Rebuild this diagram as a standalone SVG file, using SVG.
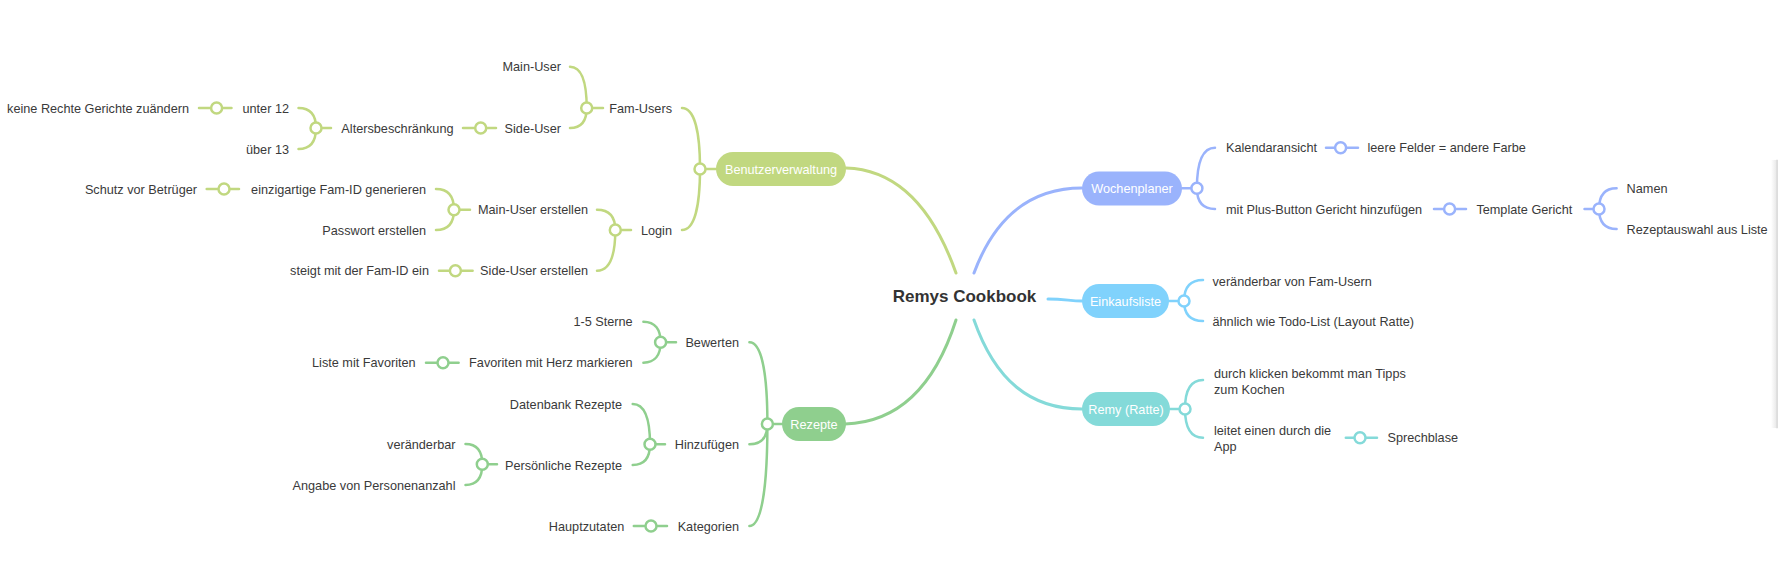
<svg xmlns="http://www.w3.org/2000/svg" width="1778" height="577" viewBox="0 0 1778 577">
<defs>
<linearGradient id="edge" x1="0" y1="0" x2="1" y2="0">
<stop offset="0" stop-color="#ffffff"/>
<stop offset="1" stop-color="#e2e2e2"/>
</linearGradient>
</defs>
<style>
text{font-family:"Liberation Sans",Arial,sans-serif;font-size:12.7px;fill:#3a3a3a}
.l{text-anchor:end}
.w{fill:#fff;text-anchor:middle}
.root{font-size:17px;font-weight:bold;fill:#333;text-anchor:middle}
path,line{fill:none;stroke-linecap:round}
.m{stroke-width:3}
.b{stroke-width:2.5}
circle{fill:#fff;stroke-width:2.5}
.bv{stroke:#c1d880}
.rz{stroke:#8fcf8e}
.wp{stroke:#9ab3fc}
.ek{stroke:#80d2fc}
.rm{stroke:#84dad9}
</style>
<rect width="1778" height="577" fill="#fff"/>
<rect x="1771" y="160" width="7" height="268" fill="url(#edge)"/>
<line x1="1777" y1="160" x2="1777" y2="428" stroke="#d6d6d6" stroke-width="1"/>
<g id="connectors">
<path class="m bv" d="M846 168 C910 170 940 228 956 273"/>
<path class="m wp" d="M1082 188 C1020 188 990 230 974 273"/>
<path class="m rz" d="M845 424 C910 422 940 370 956 320"/>
<path class="m rm" d="M974 320 C995 380 1030 409 1082 409"/>
<path class="m ek" d="M1048 299 C1065 299 1070 301 1082 301"/>
<g class="b bv">
<path d="M586.7 108 C586.7 83.2 581.7 66.7 570 66.7 M586.7 108 C586.7 120 581.7 128 570 128 M586.7 108 L603 108"/>
<path d="M700 169 C700 132.4 694.6 108 682 108 M700 169 C700 205.6 694.6 230 682 230 M700 169 L716 169"/>
<path d="M615.3 230 C615.3 217.8 609.8 209.7 597 209.7 M615.3 230 C615.3 254.4 609.8 270.7 597 270.7 M615.3 230 L631 230"/>
<path d="M454 209.7 C454 197.3 448.6 189 436 189 M454 209.7 C454 221.9 448.6 230 436 230 M454 209.7 L470 209.7"/>
<path d="M316 128 C316 116 310.8 108 298.5 108 M316 128 C316 140.6 310.8 149 298.5 149 M316 128 L331 128"/>
<line x1="199" y1="108" x2="231.5" y2="108"/>
<line x1="463" y1="128" x2="496" y2="128"/>
<line x1="206.7" y1="189" x2="239" y2="189"/>
<line x1="439" y1="270.7" x2="472.6" y2="270.7"/>
<circle cx="586.7" cy="108" r="5.5"/>
<circle cx="700" cy="169" r="5.5"/>
<circle cx="615.3" cy="230" r="5.5"/>
<circle cx="454" cy="209.7" r="5.5"/>
<circle cx="316" cy="128" r="5.5"/>
<circle cx="216.6" cy="108" r="5.5"/>
<circle cx="480.7" cy="128" r="5.5"/>
<circle cx="224" cy="189" r="5.5"/>
<circle cx="455.4" cy="270.7" r="5.5"/>
</g>
<g class="b rz">
<path d="M660.6 342.3 C660.6 330 655.4 321.7 643.4 321.7 M660.6 342.3 C660.6 354.5 655.4 362.7 643.4 362.7 M660.6 342.3 L676 342.3"/>
<path d="M650 444.3 C650 420.1 644.8 404 632.7 404 M650 444.3 C650 456.7 644.8 465 632.7 465 M650 444.3 L665 444.3"/>
<path d="M482.3 464.3 C482.3 452.1 477.3 444 465.5 444 M482.3 464.3 C482.3 476.7 477.3 485 465.5 485 M482.3 464.3 L497 464.3"/>
<path d="M767.4 424 C767.4 375 762 342.3 749.4 342.3 M767.4 424 C767.4 436.2 762 444.3 749.4 444.3 M767.4 424 C767.4 485.2 762 526 749.4 526 M767.4 424 L782 424"/>
<line x1="426" y1="362.7" x2="458.6" y2="362.7"/>
<line x1="633.8" y1="526" x2="667" y2="526"/>
<circle cx="660.6" cy="342.3" r="5.5"/>
<circle cx="650" cy="444.3" r="5.5"/>
<circle cx="482.3" cy="464.3" r="5.5"/>
<circle cx="767.4" cy="424" r="5.5"/>
<circle cx="443" cy="362.7" r="5.5"/>
<circle cx="651" cy="526" r="5.5"/>
</g>
<g class="b wp">
<path d="M1182 188.3 L1196.9 188.3 M1196.9 188.3 C1196.9 163.9 1202.3 147.7 1215 147.7 M1196.9 188.3 C1196.9 200.7 1202.3 209 1215 209"/>
<path d="M1584.5 209 L1599 209 M1599 209 C1599 196.6 1604.3 188.3 1616.6 188.3 M1599 209 C1599 221 1604.3 229 1616.6 229"/>
<line x1="1326" y1="147.7" x2="1358" y2="147.7"/>
<line x1="1434" y1="209" x2="1466" y2="209"/>
<circle cx="1196.9" cy="188.3" r="5.5"/>
<circle cx="1599" cy="209" r="5.5"/>
<circle cx="1340.6" cy="147.7" r="5.5"/>
<circle cx="1449.6" cy="209" r="5.5"/>
</g>
<g class="b ek">
<path d="M1168 301 L1184 301 M1184 301 C1184 288.4 1189.7 280 1203 280 M1184 301 C1184 313 1189.7 321 1203 321"/>
<circle cx="1184" cy="301" r="5.5"/>
</g>
<g class="b rm">
<path d="M1170 409 L1185 409 M1185 409 C1185 391.6 1190.4 380 1203 380 M1185 409 C1185 426.2 1190.4 437.7 1203 437.7"/>
<line x1="1345.8" y1="437.7" x2="1377" y2="437.7"/>
<circle cx="1185" cy="409" r="5.5"/>
<circle cx="1360" cy="437.7" r="5.5"/>
</g>
</g>
<g id="root"><text class="root" x="964.5" y="302">Remys Cookbook</text></g>
<g id="benutzerverwaltung"><rect x="716" y="152" width="130" height="34" rx="17" fill="#c1d880"/><text class="w" x="781" y="173.5">Benutzerverwaltung</text></g>
<g id="wochenplaner"><rect x="1082" y="171.5" width="100" height="34" rx="17" fill="#9ab3fc"/><text class="w" x="1132" y="192.8">Wochenplaner</text></g>
<g id="einkaufsliste"><rect x="1082" y="284" width="87" height="34" rx="17" fill="#80d2fc"/><text class="w" x="1125.5" y="305.5">Einkaufsliste</text></g>
<g id="remy"><rect x="1082" y="392" width="88" height="34" rx="17" fill="#84dad9"/><text class="w" x="1126" y="413.5">Remy (Ratte)</text></g>
<g id="rezepte"><rect x="782" y="407" width="64" height="34" rx="17" fill="#8fcf8e"/><text class="w" x="814" y="428.5">Rezepte</text></g>
<g id="fam-users"><text class="l" x="672" y="112.5">Fam-Users</text></g>
<g id="main-user"><text class="l" x="561" y="71.2">Main-User</text></g>
<g id="side-user"><text class="l" x="561" y="132.5">Side-User</text></g>
<g id="altersbeschraenkung"><text class="l" x="453.5" y="132.5">Altersbeschränkung</text></g>
<g id="unter12"><text class="l" x="289" y="112.5">unter 12</text></g>
<g id="ueber13"><text class="l" x="289" y="153.5">über 13</text></g>
<g id="keine-rechte"><text class="l" x="189" y="112.5">keine Rechte Gerichte zuändern</text></g>
<g id="login"><text class="l" x="672" y="234.5">Login</text></g>
<g id="main-user-erstellen"><text class="l" x="588" y="214.2">Main-User erstellen</text></g>
<g id="fam-id"><text class="l" x="426" y="193.5">einzigartige Fam-ID generieren</text></g>
<g id="schutz"><text class="l" x="197" y="193.5">Schutz vor Betrüger</text></g>
<g id="passwort"><text class="l" x="426" y="234.5">Passwort erstellen</text></g>
<g id="side-user-erstellen"><text class="l" x="588" y="275.2">Side-User erstellen</text></g>
<g id="steigt"><text class="l" x="429" y="275.2">steigt mit der Fam-ID ein</text></g>
<g id="bewerten"><text class="l" x="739" y="346.8">Bewerten</text></g>
<g id="sterne"><text class="l" x="632.7" y="326.2">1-5 Sterne</text></g>
<g id="favoriten"><text class="l" x="632.7" y="367.2">Favoriten mit Herz markieren</text></g>
<g id="liste-fav"><text class="l" x="415.7" y="367.2">Liste mit Favoriten</text></g>
<g id="hinzufuegen"><text class="l" x="739" y="448.8">Hinzufügen</text></g>
<g id="datenbank"><text class="l" x="622" y="408.5">Datenbank Rezepte</text></g>
<g id="persoenliche"><text class="l" x="622" y="469.5">Persönliche Rezepte</text></g>
<g id="veraenderbar"><text class="l" x="455.5" y="448.5">veränderbar</text></g>
<g id="personen"><text class="l" x="455.5" y="489.5">Angabe von Personenanzahl</text></g>
<g id="kategorien"><text class="l" x="739" y="530.5">Kategorien</text></g>
<g id="hauptzutaten"><text class="l" x="624.3" y="530.5">Hauptzutaten</text></g>
<g id="kalendaransicht"><text x="1226" y="152.2">Kalendaransicht</text></g>
<g id="leere-felder"><text x="1367.5" y="152.2">leere Felder = andere Farbe</text></g>
<g id="plus-button"><text x="1226" y="213.5">mit Plus-Button Gericht hinzufügen</text></g>
<g id="template"><text x="1476.4" y="213.5">Template Gericht</text></g>
<g id="namen"><text x="1626.6" y="192.8">Namen</text></g>
<g id="rezeptauswahl"><text x="1626.6" y="233.5">Rezeptauswahl aus Liste</text></g>
<g id="veraenderbar-fam"><text x="1212.5" y="285.8">veränderbar von Fam-Usern</text></g>
<g id="aehnlich"><text x="1212.5" y="325.5">ähnlich wie Todo-List (Layout Ratte)</text></g>
<g id="tipps"><text x="1214" y="377.8">durch klicken bekommt man Tipps</text><text x="1214" y="394.1">zum Kochen</text></g>
<g id="leitet"><text x="1214" y="434.5">leitet einen durch die</text><text x="1214" y="451.2">App</text></g>
<g id="sprechblase"><text x="1387.5" y="442.2">Sprechblase</text></g>
</svg>
